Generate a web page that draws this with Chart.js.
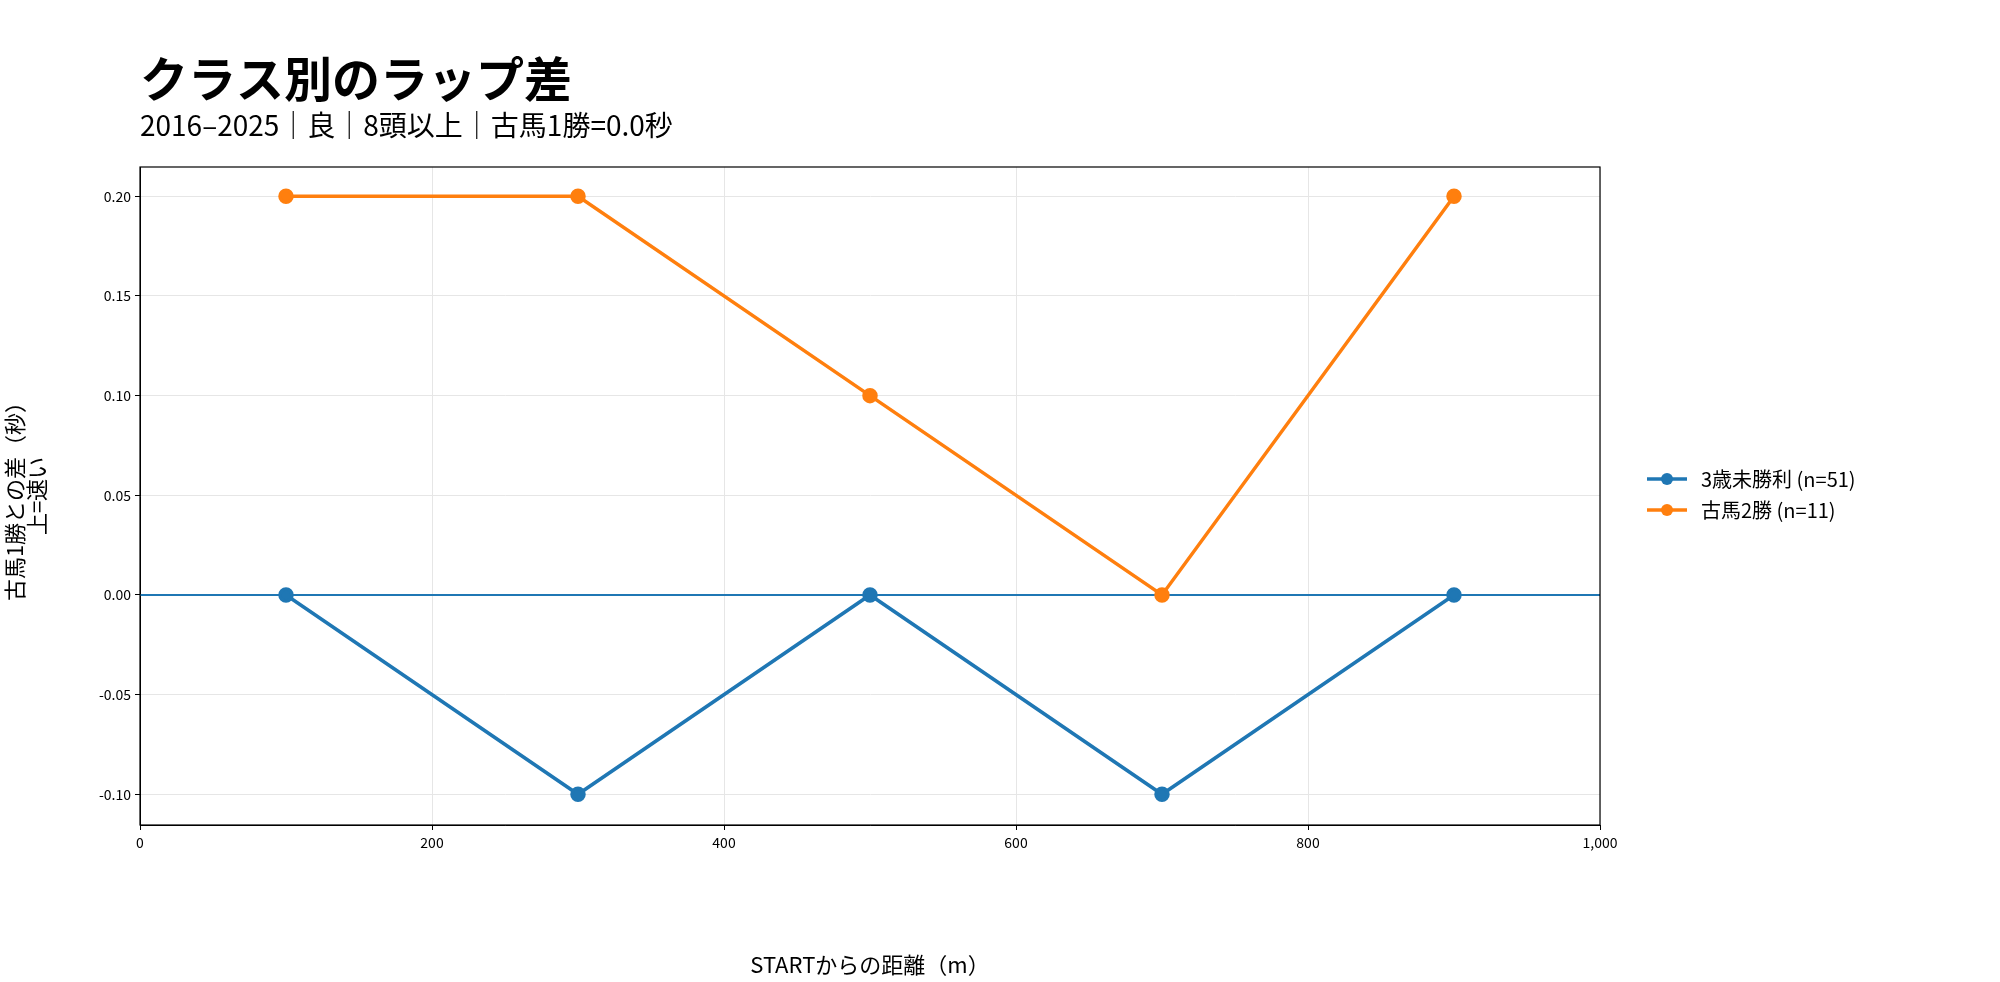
<!DOCTYPE html>
<html><head><meta charset="utf-8">
<script src="https://cdn.jsdelivr.net/npm/chart.js@4/dist/chart.umd.min.js"></script>
<style>html,body{margin:0;padding:0;background:#fff}#w{width:2000px;height:982px}</style>
</head><body><div id="w"><canvas id="c" width="2000" height="982"></canvas></div>
<script>
const distances = [100, 300, 500, 700, 900];
const seriesLabels = ["3歳未勝利 (n=51)", "古馬2勝 (n=11)"];
const series3yo = [0.0, -0.1, 0.0, -0.1, 0.0];
const seriesOld2 = [0.2, 0.2, 0.1, 0.0, 0.2];
const xTicks = [0, 200, 400, 600, 800, 1000];
const yTicks = [-0.10, -0.05, 0.00, 0.05, 0.10, 0.15, 0.20];
const titleText = "クラス別のラップ差";
const subtitleText = "2016–2025｜良｜8頭以上｜古馬1勝=0.0秒";
const FONT = "'Noto Sans CJK JP','Noto Sans',sans-serif";
const BLUE = "#1f77b4", ORANGE = "#ff7f0e";

const pts = arr => distances.map((d, i) => ({x: d, y: arr[i]}));

const deco = {
  id: 'deco',
  afterDraw(chart) {
    const ctx = chart.ctx;
    ctx.save();
    ctx.fillStyle = '#000';
    ctx.textBaseline = 'alphabetic';
    ctx.textAlign = 'left';
    ctx.font = "bold 48px " + FONT;
    ctx.fillText(titleText, 140, 97);
    ctx.font = "28px " + FONT;
    ctx.fillText(subtitleText, 140, 136);
    // legend
    const items = [[seriesLabels[0], BLUE], [seriesLabels[1], ORANGE]];
    items.forEach((it, i) => {
      const y = 479 + i * 31;
      ctx.strokeStyle = it[1]; ctx.lineWidth = 3.5;
      ctx.beginPath(); ctx.moveTo(1647, y); ctx.lineTo(1687, y); ctx.stroke();
      ctx.fillStyle = it[1];
      ctx.beginPath(); ctx.arc(1667, y, 6, 0, Math.PI * 2); ctx.fill();
      ctx.fillStyle = '#000';
      ctx.font = "20px " + FONT;
      ctx.textBaseline = 'middle';
      ctx.fillText(it[0], 1701, y);
    });
    // frame
    const a = chart.chartArea;
    ctx.strokeStyle = '#000'; ctx.lineWidth = 1.2;
    ctx.strokeRect(a.left, a.top, a.right - a.left, a.bottom - a.top);
    ctx.restore();
  }
};

new Chart(document.getElementById('c'), {
  type: 'line',
  data: {
    datasets: [
      {label: seriesLabels[0], data: pts(series3yo), borderColor: BLUE, backgroundColor: BLUE, borderWidth: 3.5, pointRadius: 6, pointHoverRadius: 6, tension: 0},
      {label: seriesLabels[1], data: pts(seriesOld2), borderColor: ORANGE, backgroundColor: ORANGE, borderWidth: 3.5, pointRadius: 6, pointHoverRadius: 6, tension: 0},
      {label: 'zero', data: [{x: xTicks[0], y: 0}, {x: xTicks[xTicks.length - 1], y: 0}], borderColor: BLUE, borderWidth: 2, pointRadius: 0, order: 5}
    ]
  },
  options: {
    responsive: false, animation: false,
    layout: {padding: {top: 167, right: 400, left: 0, bottom: 0}},
    plugins: {legend: {display: false}, tooltip: {enabled: false}},
    scales: {
      x: {
        type: 'linear', min: 0, max: 1000,
        afterBuildTicks: s => { s.ticks = xTicks.map(v => ({value: v})); },
        afterFit: s => { s.height = 157; },
        grid: {color: '#e6e6e6', drawTicks: true, tickColor: '#000', tickLength: 5},
        border: {color: '#000'},
        ticks: {color: '#000', font: {size: 14, family: FONT}, padding: 4, maxRotation: 0},
        title: {display: true, text: "STARTからの距離（m）", color: '#000', font: {size: 22, family: FONT}, padding: {top: 4}}
      },
      y: {
        type: 'linear', min: -0.1154, max: 0.2147,
        afterBuildTicks: s => { s.ticks = yTicks.map(v => ({value: v})); },
        afterFit: s => { s.width = 140; },
        grid: {color: '#e6e6e6', tickColor: '#000', tickLength: 5},
        border: {color: '#000'},
        ticks: {color: '#000', font: {size: 14, family: FONT}, padding: 4, callback: v => v.toFixed(2)},
        title: {display: true, text: ["古馬1勝との差（秒）", "上=速い"], color: '#000', font: {size: 22, family: FONT, lineHeight: 1.0}, padding: {bottom: 4}}
      }
    }
  },
  plugins: [deco]
});
</script></body></html>
